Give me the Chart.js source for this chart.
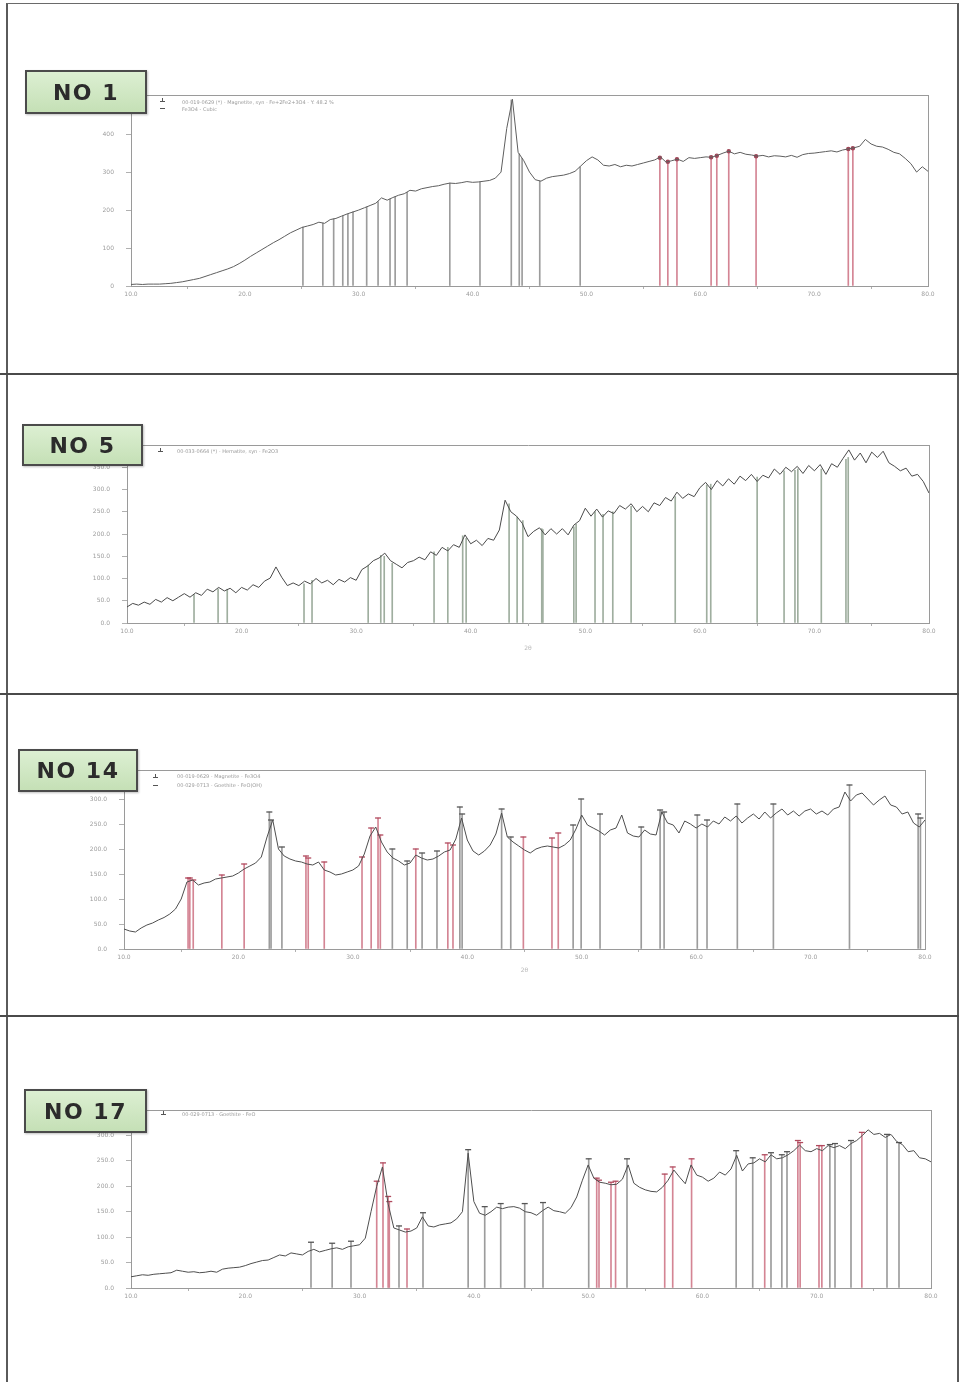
<!DOCTYPE html>
<html>
<head>
<meta charset="utf-8">
<script src="https://cdn.jsdelivr.net/npm/chart.js@4.4.1/dist/chart.umd.min.js"></script>
<style>
  html, body { margin: 0; padding: 0; background: #fff; }
  body { width: 959px; height: 1382px; position: relative; overflow: hidden; font-family: "DejaVu Sans", sans-serif; }
  canvas { position: absolute; left: 0; }
  .frame { position: absolute; left: 6px; top: 3px; width: 949px; height: 1400px;
           border-left: 2px solid #5a5a5a; border-top: 1px solid #6a6a6a; border-right: 2px solid #5a5a5a; }
  .divider { position: absolute; left: 0; width: 959px; height: 2px; background: #4a4a4a; }
  .tag { position: absolute; box-sizing: border-box; border: 2px solid #4b4b4b;
         background: linear-gradient(#dcefd2, #c5e0b6); color: #2b2b2b;
         font: bold 22px "DejaVu Sans", sans-serif; letter-spacing: 1.5px;
         display: flex; align-items: center; justify-content: center;
         box-shadow: 1px 1px 2px rgba(0,0,0,0.25); }
  .note { position: absolute; font: 5px "DejaVu Sans", sans-serif; color: #9a9a9a; white-space: nowrap; line-height: 6px; }
  .mk { position: absolute; width: 5px; height: 1px; background: #555; }
  .mk.stem::before { content: ''; position: absolute; left: 2px; top: -3px; width: 1px; height: 3px; background: #555; }
</style>
</head>
<body>
<canvas id="no1" width="959" height="373" style="top:0px"></canvas>
<canvas id="no5" width="959" height="319" style="top:374px"></canvas>
<canvas id="no14" width="959" height="321" style="top:694px"></canvas>
<canvas id="no17" width="959" height="366" style="top:1016px"></canvas>

<div class="frame"></div>
<div class="divider" style="top:373px"></div>
<div class="divider" style="top:693px"></div>
<div class="divider" style="top:1015px"></div>

<!-- reference card notes -->
<div class="mk stem" style="left:160px;top:101px"></div>
<div class="note" style="left:182px;top:99px">00-019-0629 (*) - Magnetite, syn - Fe+2Fe2+3O4 - Y: 48.2 %</div>
<div class="mk" style="left:160px;top:108px"></div>
<div class="note" style="left:182px;top:106px">Fe3O4 - Cubic</div>

<div class="mk stem" style="left:158px;top:451px"></div>
<div class="note" style="left:177px;top:448px">00-033-0664 (*) - Hematite, syn - Fe2O3</div>

<div class="mk stem" style="left:153px;top:777px"></div>
<div class="note" style="left:177px;top:773px">00-019-0629 - Magnetite - Fe3O4</div>
<div class="mk" style="left:153px;top:785px"></div>
<div class="note" style="left:177px;top:782px">00-029-0713 - Goethite - FeO(OH)</div>

<div class="mk stem" style="left:161px;top:1114px"></div>
<div class="note" style="left:182px;top:1111px">00-029-0713 - Goethite - FeO</div>

<div class="tag" style="left:25px;top:70px;width:122px;height:44px">NO 1</div>
<div class="tag" style="left:22px;top:424px;width:121px;height:42px">NO 5</div>
<div class="tag" style="left:18px;top:749px;width:120px;height:43px">NO 14</div>
<div class="tag" style="left:24px;top:1089px;width:123px;height:44px">NO 17</div>

<script>
// 2-theta sampling positions (degrees)
const twoTheta = [
  10,10.5,11,11.5,12,12.5,13,13.5,14,14.5,
  15,15.5,16,16.5,17,17.5,18,18.5,19,19.5,
  20,20.5,21,21.5,22,22.5,23,23.5,24,24.5,
  25,25.5,26,26.5,27,27.5,28,28.5,29,29.5,
  30,30.5,31,31.5,32,32.5,33,33.5,34,34.5,
  35,35.5,36,36.5,37,37.5,38,38.5,39,39.5,
  40,40.5,41,41.5,42,42.5,43,43.5,44,44.5,
  45,45.5,46,46.5,47,47.5,48,48.5,49,49.5,
  50,50.5,51,51.5,52,52.5,53,53.5,54,54.5,
  55,55.5,56,56.5,57,57.5,58,58.5,59,59.5,
  60,60.5,61,61.5,62,62.5,63,63.5,64,64.5,
  65,65.5,66,66.5,67,67.5,68,68.5,69,69.5,
  70,70.5,71,71.5,72,72.5,73,73.5,74,74.5,
  75,75.5,76,76.5,77,77.5,78,78.5,79,79.5,
  80
];

// measured intensities (counts)
const no1Counts = [
  4,5,4,5,5,5,6,7,9,11,
  14,17,20,25,30,35,40,45,51,59,
  68,78,87,96,105,114,122,131,140,147,
  154,158,162,168,165,175,178,184,190,195,
  200,206,212,218,232,226,233,239,243,252,
  250,256,259,262,264,268,271,270,272,275,
  273,274,276,278,284,300,415,492,352,330,
  300,280,276,284,288,290,292,296,302,316,
  330,340,332,318,316,320,314,318,316,320,
  324,328,332,340,326,330,334,328,338,336,
  338,340,339,344,350,355,348,352,347,345,
  342,344,340,343,342,340,344,339,346,349,
  350,352,354,356,353,358,361,364,368,386,
  374,368,366,360,352,348,336,322,300,314,
  302
];
const no5Counts = [
  36,44,40,47,42,53,47,57,50,58,
  66,58,68,62,76,70,80,72,78,68,
  80,74,86,80,94,101,126,103,84,90,
  84,94,88,100,90,96,86,98,92,102,
  96,120,128,140,146,157,140,132,124,136,
  140,148,142,160,152,170,162,176,170,198,
  178,186,174,190,186,209,276,250,240,224,
  194,206,214,198,212,200,212,198,220,230,
  258,240,256,238,252,246,264,256,268,250,
  262,250,270,264,282,274,294,280,290,284,
  304,316,300,320,308,324,312,330,320,334,
  318,332,326,346,334,350,340,352,336,354,
  342,356,334,358,350,370,389,366,382,360,
  384,372,386,360,352,342,348,330,334,318,
  292
];
const no14Counts = [
  40,36,34,42,48,52,58,63,70,80,
  100,134,138,128,132,134,140,142,144,146,
  152,160,166,172,184,224,258,200,186,180,
  176,174,170,168,174,158,154,148,150,154,
  158,166,190,226,244,214,194,182,176,168,
  172,188,182,178,180,186,194,198,220,262,
  218,196,188,196,208,230,272,224,214,206,
  198,192,200,204,206,204,202,208,218,240,
  268,248,242,236,228,238,242,268,232,226,
  224,238,230,228,274,252,248,232,256,250,
  242,250,244,256,250,264,256,266,252,262,
  270,260,274,262,272,280,268,276,266,276,
  280,270,276,268,280,284,314,296,308,312,
  300,288,298,306,288,284,270,274,252,244,
  258
];
const no17Counts = [
  22,24,26,25,27,28,29,30,35,33,
  31,32,30,31,33,31,37,39,40,41,
  44,48,51,54,55,60,65,63,69,67,
  65,72,76,71,74,77,79,76,81,83,
  85,98,150,200,238,165,118,114,110,112,
  118,140,122,120,124,126,128,136,150,265,
  170,147,143,150,159,156,159,160,157,150,
  148,143,152,159,152,150,147,158,179,212,
  242,216,208,206,203,204,214,242,206,198,
  193,190,189,198,212,232,218,205,242,222,
  218,210,216,228,222,234,261,230,244,246,
  254,248,262,254,256,262,270,281,270,268,
  274,270,280,276,280,274,284,290,300,311,
  302,304,296,302,288,282,268,270,256,254,
  248
];

// reference peak positions (2-theta) and stick heights
const no1GrayPeaks   = [25.1,26.85,27.8,28.6,29.05,29.5,30.7,31.7,32.75,33.2,34.25,38.0,40.65,43.4,44.1,44.35,45.9,49.45];
const no1GrayHeights = [155,166,177,185,190,195,208,222,229,235,247,271,274,490,348,336,277,314];
const no1RedPeaks    = [56.45,57.15,57.95,60.95,61.45,62.5,64.9,73.0,73.4];
const no1RedHeights  = [338,327,334,339,343,355,342,361,363];

const no5Peaks   = [15.85,17.95,18.75,25.45,26.15,31.05,32.15,32.45,33.15,36.8,38.0,39.3,39.6,43.35,44.05,44.55,46.2,46.3,49.0,49.2,50.85,51.55,52.4,54.0,57.85,60.6,60.95,65.0,67.35,68.3,68.55,70.6,72.75,72.95];
const no5Heights = [64,77,76,88,96,130,152,150,134,160,170,196,190,268,238,230,212,210,216,222,250,244,250,262,284,310,312,328,342,343,346,346,368,372];

const no14GrayPeaks   = [22.7,22.85,23.8,33.45,34.75,36.05,37.35,39.35,39.55,43.0,43.8,49.25,49.95,51.6,55.2,56.85,57.2,60.1,60.95,63.6,66.75,73.4,79.4,79.6];
const no14GrayHeights = [274,258,204,200,176,192,196,284,270,280,224,248,300,270,244,278,274,268,258,290,290,328,270,262];
const no14RedPeaks    = [15.6,15.75,16.05,18.55,20.5,25.9,26.1,27.5,30.8,31.6,32.2,32.4,35.5,38.3,38.75,44.9,47.4,47.95];
const no14RedHeights  = [142,142,138,148,170,186,182,174,184,242,262,228,200,212,208,224,222,232];

const no17GrayPeaks   = [25.75,27.6,29.25,33.45,35.55,39.5,40.95,42.35,44.45,46.05,50.05,53.4,62.95,64.4,66.0,66.95,67.4,71.15,71.6,73.0,76.15,77.2];
const no17GrayHeights = [90,88,92,122,148,272,160,166,166,168,254,254,270,256,266,262,268,282,284,290,302,286];
const no17RedPeaks    = [31.5,32.05,32.5,32.6,34.15,50.75,50.95,52.0,52.4,56.7,57.4,59.05,65.45,68.35,68.55,70.2,70.45,73.95];
const no17RedHeights  = [210,246,180,170,116,216,212,208,210,224,238,254,262,290,286,280,280,306];

// axis tick values
const xTickValues = [10,20,30,40,50,60,70,80];
const no1YTicks  = [0,100,200,300,400,500];
const no5YTicks  = [0,50,100,150,200,250,300,350,400];
const no14YTicks = [0,50,100,150,200,250,300,350];
const no17YTicks = [0,50,100,150,200,250,300,350];

const Y_AXIS_W = 40;
const TICK_FONT = { size: 6, family: 'DejaVu Sans' };
const AXIS_COLOR = '#9a9a9a';

function xy(xs, ys) { return xs.map((x, i) => ({ x: x, y: ys[i] })); }

function drawPanel(id, box, counts, lineColor, sticks, yTicks, yFormat, xTitle) {
  const datasets = [{
    type: 'line', data: xy(twoTheta, counts), borderColor: lineColor, borderWidth: 1,
    pointRadius: 0, tension: 0, order: 0
  }];
  sticks.forEach(s => {
    const pts = xy(s.pos, s.h);
    datasets.push({
      type: 'bar', data: pts, backgroundColor: s.color, barThickness: 1,
      grouped: false, borderWidth: 0, order: 3
    });
    if (s.cap) {
      datasets.push({
        type: 'line', data: pts, showLine: false, pointStyle: s.cap, pointRadius: s.capR,
        pointBorderColor: s.capColor, pointBackgroundColor: s.capColor,
        pointBorderWidth: 1.3, order: 1
      });
    }
  });

  const hidden = { display: false };
  new Chart(document.getElementById(id), {
    type: 'line',
    data: { datasets },
    options: {
      responsive: false, animation: false, events: [],
      layout: { padding: {
        left: box.L - Y_AXIS_W, right: 959 - box.R,
        top: box.T - box.top, bottom: box.top + box.h - box.B - box.xh } },
      plugins: { legend: hidden, tooltip: { enabled: false } },
      scales: {
        x: {
          type: 'linear', position: 'bottom', min: 10, max: 80, offset: false,
          afterBuildTicks: s => { s.ticks = xTickValues.map(v => ({ value: v })); },
          afterFit: s => { s.height = box.xh; },
          ticks: { color: '#9c9c9c', font: TICK_FONT, padding: 2, maxRotation: 0, autoSkip: false,
                   callback: v => Number(v).toFixed(1) },
          grid: { display: true, drawOnChartArea: false, drawTicks: true, tickLength: 3, color: '#b0b0b0' },
          border: { display: true, color: AXIS_COLOR, width: 1 },
          title: { display: !!xTitle, text: xTitle || '', color: '#b8b8b8',
                   font: TICK_FONT, padding: { top: 0, bottom: 0 } }
        },
        y: {
          type: 'linear', position: 'left', min: 0, max: box.yMax,
          afterBuildTicks: s => { s.ticks = yTicks.map(v => ({ value: v })); },
          afterFit: s => { s.width = Y_AXIS_W; },
          ticks: { color: '#9c9c9c', font: TICK_FONT, padding: 12, autoSkip: false,
                   callback: v => yFormat(v) },
          grid: { display: true, drawOnChartArea: false, drawTicks: true, tickLength: 5, color: '#b0b0b0' },
          border: { display: true, color: AXIS_COLOR, width: 1 }
        },
        xTop: {
          type: 'linear', position: 'top', min: 10, max: 80,
          ticks: hidden, grid: hidden,
          border: { display: true, color: AXIS_COLOR, width: 1 },
          afterFit: s => { s.height = 0; }
        },
        yRight: {
          type: 'linear', position: 'right', min: 0, max: box.yMax,
          ticks: hidden, grid: hidden,
          border: { display: true, color: AXIS_COLOR, width: 1 },
          afterFit: s => { s.width = 0; }
        }
      }
    }
  });
}

const RED = '#d48594';
const GRAY = '#9c9c9c';

drawPanel('no1',
  { top: 0, h: 373, L: 131, R: 928, T: 95, B: 286, xh: 20, yMax: 503 },
  no1Counts, '#5e5e5e',
  [
    { pos: no1GrayPeaks, h: no1GrayHeights, color: GRAY },
    { pos: no1RedPeaks, h: no1RedHeights, color: RED, cap: 'circle', capR: 1.6, capColor: '#a0485a' }
  ],
  no1YTicks, v => String(v), null);

drawPanel('no5',
  { top: 374, h: 319, L: 127, R: 929, T: 445, B: 623, xh: 29, yMax: 400 },
  no5Counts, '#4a4a4a',
  [ { pos: no5Peaks, h: no5Heights, color: '#9fae9f' } ],
  no5YTicks, v => v.toFixed(1), '2θ');

drawPanel('no14',
  { top: 694, h: 321, L: 124, R: 925, T: 770, B: 949, xh: 25, yMax: 358 },
  no14Counts, '#4e4e4e',
  [
    { pos: no14GrayPeaks, h: no14GrayHeights, color: GRAY, cap: 'line', capR: 3, capColor: '#555' },
    { pos: no14RedPeaks, h: no14RedHeights, color: RED, cap: 'line', capR: 3, capColor: '#b04a5e' }
  ],
  no14YTicks, v => v.toFixed(1), '2θ');

drawPanel('no17',
  { top: 1016, h: 366, L: 131, R: 931, T: 1110, B: 1288, xh: 20, yMax: 350 },
  no17Counts, '#4e4e4e',
  [
    { pos: no17GrayPeaks, h: no17GrayHeights, color: GRAY, cap: 'line', capR: 3, capColor: '#555' },
    { pos: no17RedPeaks, h: no17RedHeights, color: RED, cap: 'line', capR: 3, capColor: '#b04a5e' }
  ],
  no17YTicks, v => v.toFixed(1), null);
</script>
</body>
</html>
